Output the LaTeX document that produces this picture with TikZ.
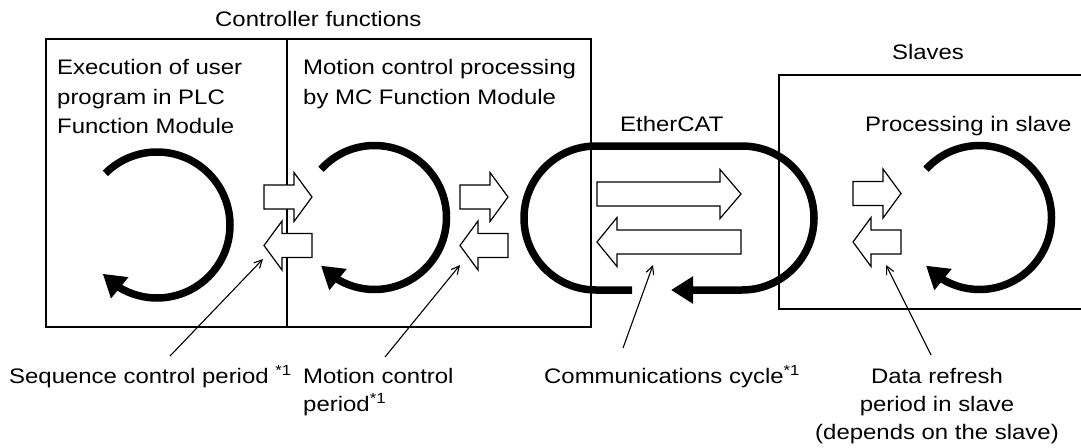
\documentclass[tikz,border=0pt]{standalone}
\usepackage{fontspec}
\setmainfont{Liberation Sans}[FakeStretch=1.14]
\usetikzlibrary{arrows.meta,bending}
\tikzset{
  boxline/.style={line width=1.2pt},
  thickloop/.style={line width=7.5pt},
  looptip/.style={-{Triangle[length=22pt,width=26pt]}},
  hollow/.style={draw=black,fill=white,line width=1.2pt,line join=miter},
  pointer/.style={line width=1.1pt,-{Straight Barb[length=8pt,width=8pt,line width=1.1pt]}},
  toplabel/.style={inner sep=0pt,font=\fontsize{21}{29.5}\selectfont,align=left},
  botlabel/.style={inner sep=0pt,font=\fontsize{21}{28.3}\selectfont},
  pics/harrow/.style 2 args={code={
    \draw[hollow] (0,-12) -- ({#1-#2},-12) -- ({#1-#2},-24.5) -- (#1,0)
      -- ({#1-#2},24.5) -- ({#1-#2},12) -- (0,12) -- cycle;}}
}
\newcommand{\supone}{\textsuperscript{*1}}
\begin{document}
\begin{tikzpicture}[x=1pt,y=-1pt]
\useasboundingbox (0,0) rectangle (1081,447);

% boxes
\draw[boxline] (46,39) rectangle (591,327);
\draw[boxline] (287,39) -- (287,327);
\draw[boxline] (1083,75) -- (779,75) -- (779,309) -- (1083,309);

% titles (anchor base = baseline of the last line)
\node[toplabel,anchor=base west] (ctrl) at (215,27) {Controller functions};
\node[toplabel,anchor=base] (slaves) at (928,59) {Slaves};
\node[toplabel,anchor=base west] (exec) at (57,133.5) {Execution of user\\program in PLC\\Function Module};
\node[toplabel,anchor=base west] (mcp) at (303,104) {Motion control processing\\by MC Function Module};
\node[toplabel,anchor=base west] (ecat) at (620,131) {EtherCAT};
\node[toplabel,anchor=base west] (proc) at (865,131) {Processing in slave};

% cycle arrows
\draw[thickloop,looptip] (157,225) ++(135:73pt) arc[start angle=135,end angle=-138,radius=73pt];
\draw[thickloop,looptip] (374.5,217.5) ++(138:72pt) arc[start angle=138,end angle=-138,radius=72pt];
\draw[thickloop,looptip] (979.5,217.5) ++(138:72pt) arc[start angle=138,end angle=-138,radius=72pt];

% EtherCAT loop
\draw[thickloop,looptip] (632,290) -- (596,290) arc[start angle=270,end angle=90,radius=72pt]
  -- (742,146) arc[start angle=90,end angle=-90,radius=72pt] -- (671,290);

% hollow data arrows
\pic at (264,197) {harrow={48}{18}};
\pic[rotate=180] at (312,245.5) {harrow={48}{18}};
\pic at (460,197) {harrow={48}{18}};
\pic[rotate=180] at (508,245.5) {harrow={48}{18}};
\pic at (597,194) {harrow={144}{21}};
\pic[rotate=180] at (741,242) {harrow={144}{20}};
\pic at (853,193.5) {harrow={48}{18}};
\pic[rotate=180] at (901,242) {harrow={48}{18}};

% bottom labels
\node[botlabel,anchor=base west] (seq) at (9,383) {Sequence control period \supone};
\node[botlabel,anchor=base west,align=left] (mot) at (303,411.3) {Motion control\\period\supone};
\node[botlabel,anchor=base west] (com) at (544,383) {Communications cycle\supone};
\node[botlabel,anchor=base,align=center] (dat) at (937,439.6) {Data refresh\\period in slave\\(depends on the slave)};

% pointers
\coordinate (seqs) at (170,356);  \coordinate (seqe) at (263,259);
\coordinate (mots) at (385,357);  \coordinate (mote) at (460,265);
\coordinate (coms) at (623,348);  \coordinate (come) at (653,265);
\coordinate (dats) at (931,355);  \coordinate (date) at (886,265);
\draw[pointer] (seqs) -- (seqe);
\draw[pointer] (mots) -- (mote);
\draw[pointer] (coms) -- (come);
\draw[pointer] (dats) -- (date);
\end{tikzpicture}
\end{document}
